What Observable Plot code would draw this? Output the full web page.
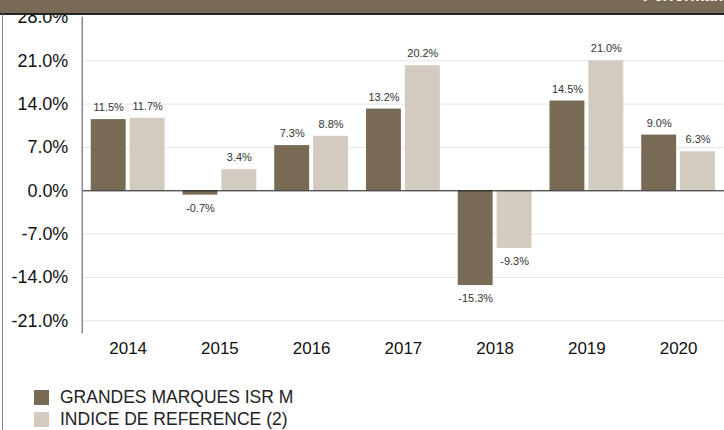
<!DOCTYPE html>
<html>
<head>
<meta charset="utf-8">
<script src="https://cdn.jsdelivr.net/npm/d3@7"></script>
<script src="https://cdn.jsdelivr.net/npm/@observablehq/plot@0.6"></script>
<style>
  html, body { margin: 0; padding: 0; background: #fff; }
  #wrap { position: relative; width: 724px; height: 430px; overflow: hidden; font-family: "Liberation Sans", Arial, sans-serif; }
  #header { position: absolute; left: 0; top: 0; width: 724px; height: 13px; background: #786a55; border-bottom: 2px solid #222; overflow: hidden; }
  #header span { position: absolute; left: 643px; top: -13px; color: #fff; font-weight: bold; font-size: 16px; white-space: nowrap; }
  #border { position: absolute; left: 2px; top: 14px; width: 1px; height: 416px; background: #888; }
  #chart { position: absolute; left: 0; top: 0; }
  #legend { position: absolute; left: 34px; top: 386px; font-size: 17.5px; color: #222; }
  .item { display: flex; align-items: center; height: 22px; }
  .sw { width: 15px; height: 15px; margin-right: 11px; }
</style>
</head>
<body>
<div id="wrap">
  <div id="chart"></div>
  <div id="header"><span>Performances</span></div>
  <div id="border"></div>
  <div id="legend"></div>
</div>
<script>
const years = ["2014", "2015", "2016", "2017", "2018", "2019", "2020"];
const seriesNames = ["GRANDES MARQUES ISR M", "INDICE DE REFERENCE (2)"];
const fundValues = [11.5, -0.7, 7.3, 13.2, -15.3, 14.5, 9.0];
const indexValues = [11.7, 3.4, 8.8, 20.2, -9.3, 21.0, 6.3];
const yTicks = [-21, -14, -7, 0, 7, 14, 21, 28];
const colors = ["#786a55", "#d3cac0"];

const fund = years.map((y, i) => ({year: y, value: fundValues[i]}));
const index = years.map((y, i) => ({year: y, value: indexValues[i]}));
const fmt = v => v.toFixed(1) + "%";

const labelMarks = (data, dx) => [
  Plot.text(data.filter(d => d.value >= 0), {x: "year", y: "value", text: d => fmt(d.value), dx, dy: -12, fontSize: 11, fill: "#333", lineAnchor: "middle"}),
  Plot.text(data.filter(d => d.value < 0), {x: "year", y: "value", text: d => fmt(d.value), dx, dy: 13, fontSize: 11, fill: "#333", lineAnchor: "middle"})
];

const chart = Plot.plot({
  width: 726,
  height: 362,
  marginLeft: 82,
  marginRight: 0,
  marginTop: 17,
  marginBottom: 29,
  style: {fontFamily: "'Liberation Sans', Arial, sans-serif", background: "transparent", overflow: "visible"},
  x: {domain: years, padding: 0, label: null, tickSize: 0, tickPadding: 9},
  y: {domain: [-22.9, 28], ticks: yTicks, tickFormat: fmt, label: null, tickSize: 0, tickPadding: 14},
  marks: [
    Plot.gridY(yTicks.filter(t => t !== 0 && t !== 28), {stroke: "#e6e6e6", strokeOpacity: 1}),
    Plot.barY(fund, {x: "year", y: "value", fill: colors[0], insetLeft: 9, insetRight: 48}),
    Plot.barY(index, {x: "year", y: "value", fill: colors[1], insetLeft: 48, insetRight: 9}),
    Plot.ruleY([0], {stroke: "#111", strokeWidth: 1}),
    Plot.frame({anchor: "left", stroke: "#888", strokeWidth: 1.5}),
    ...labelMarks(fund, -19.5),
    ...labelMarks(index, 19.5),
    Plot.axisY(yTicks, {tickSize: 0, tickPadding: 14, tickFormat: fmt, fontSize: 18, fill: "#111"}),
    Plot.axisX({tickSize: 0, tickPadding: 9, fontSize: 17, fill: "#111", label: null})
  ]
});
document.getElementById("chart").appendChild(chart);

const legend = document.getElementById("legend");
seriesNames.forEach((name, i) => {
  const row = document.createElement("div");
  row.className = "item";
  const sw = document.createElement("div");
  sw.className = "sw";
  sw.style.background = colors[i];
  const label = document.createElement("span");
  label.textContent = name;
  row.appendChild(sw);
  row.appendChild(label);
  legend.appendChild(row);
});
</script>
</body>
</html>
